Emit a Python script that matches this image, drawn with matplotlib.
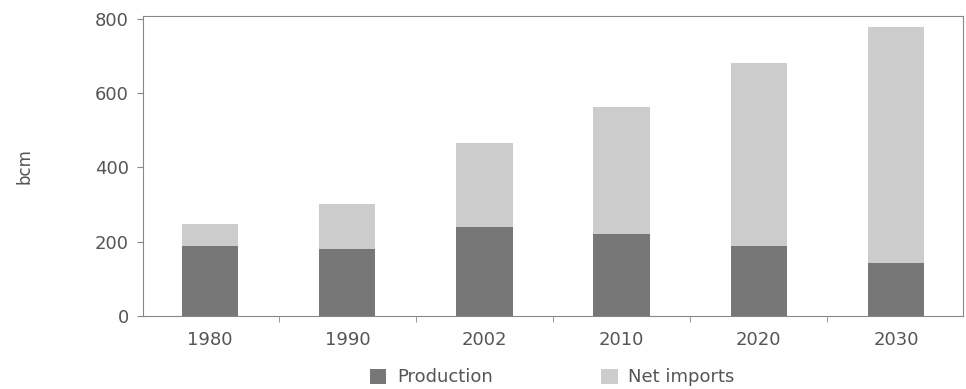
import numpy as np
import matplotlib.pyplot as plt

years = ["1980", "1990", "2002", "2010", "2020", "2030"]
production = [187, 180, 240, 220, 187, 142]
totals = [248, 300, 466, 562, 680, 778]
net_imports = [t - p for t, p in zip(totals, production)]

grey_text = "#555555"
plt.rcParams['font.family'] = ['DejaVu Sans']

fig = plt.figure(figsize=(9.66, 3.89), dpi=100)
ax = fig.add_axes([0.148, 0.188, 0.849, 0.772])

x = np.arange(len(years))
w = 0.41
b1 = ax.bar(x, production, w, color="#777777", label="Production")
b2 = ax.bar(x, net_imports, w, bottom=production, color="#cccccc", label="Net imports")

ax.set_xlim(-0.49, len(years) - 0.51)
ax.set_ylim(0, 808)
ax.set_yticks([0, 200, 400, 600, 800])
ax.set_xticks(x)
ax.set_xticklabels(years)
ax.set_xticks(x[:-1] + 0.5, minor=True)
ax.tick_params(axis='x', which='major', length=0, pad=11, labelsize=13, colors=grey_text)
ax.tick_params(axis='x', which='minor', length=4, color="#888888")
ax.tick_params(axis='y', length=4, pad=6, labelsize=13, colors=grey_text, color="#888888")
for s in ax.spines.values():
    s.set_color("#888888")
ax.set_ylabel("bcm", fontsize=12, color=grey_text, labelpad=44)

fig.legend(handles=[b1, b2], loc="lower center", bbox_to_anchor=(0.572, -0.035),
           ncol=2, frameon=False, fontsize=13, handlelength=0.9, handleheight=0.9,
           columnspacing=6, handletextpad=0.6, labelcolor=grey_text)

fig.savefig("out.png", dpi=100)
